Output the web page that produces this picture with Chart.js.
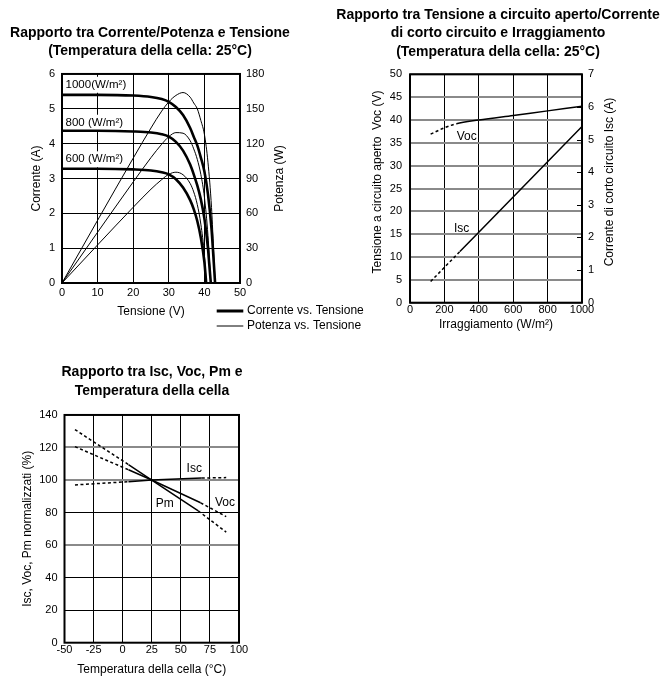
<!DOCTYPE html>
<html>
<head>
<meta charset="utf-8">
<script src="https://cdn.jsdelivr.net/npm/chart.js@4.4.1/dist/chart.umd.min.js"></script>
<style>
  body { margin: 0; background: #fff; width: 661px; height: 677px; position: relative; overflow: hidden; }
  .box { position: absolute; }
</style>
</head>
<body>
<div class="box" style="left:0;top:0;width:370px;height:340px"><canvas id="ivChart"></canvas></div>
<div class="box" style="left:330px;top:0;width:331px;height:340px"><canvas id="irrChart"></canvas></div>
<div class="box" style="left:0;top:340px;width:330px;height:337px"><canvas id="tempChart"></canvas></div>
<script>
// --- Corrente / Potenza vs Tensione (25°C) ---
const irrLabels = ["1000(W/m²)", "800 (W/m²)", "600 (W/m²)"];
const voltage1000 = [0, 10, 20, 25, 28, 30, 32, 34, 36, 37, 38, 39, 40, 41, 42, 42.5, 43];
const current1000 = [5.4, 5.4, 5.38, 5.34, 5.28, 5.2, 5.05, 4.82, 4.45, 4.2, 3.95, 3.6, 3.2, 2.55, 1.55, 0.8, 0];
const power1000 = [0, 54, 107.5, 133.5, 148, 156, 161.5, 164, 160, 155, 150, 140, 128, 104, 65, 34, 0];
const voltage800 = [0, 10, 20, 25, 28, 30, 32, 34, 36, 37, 38, 39, 40, 41, 41.4, 41.8];
const current800 = [4.37, 4.37, 4.35, 4.32, 4.27, 4.2, 4.05, 3.8, 3.4, 3.12, 2.8, 2.4, 1.85, 1.0, 0.5, 0];
const power800 = [0, 43.7, 87, 108, 119.5, 126, 129.5, 129, 122.5, 115.5, 106.5, 93.5, 74, 41, 20.7, 0];
const voltage600 = [0, 10, 20, 25, 28, 30, 32, 34, 36, 37, 38, 39, 40, 40.5];
const current600 = [3.28, 3.28, 3.26, 3.23, 3.18, 3.12, 2.98, 2.74, 2.38, 2.12, 1.78, 1.3, 0.6, 0];
const power600 = [0, 32.8, 65.2, 80.8, 89, 93.6, 95.4, 93.2, 85.7, 78.4, 67.6, 50.7, 24, 0];
const voltageTicks = [0, 10, 20, 30, 40, 50];
const currentTicks = [0, 1, 2, 3, 4, 5, 6];
const powerTicks = [0, 30, 60, 90, 120, 150, 180];

// --- Voc / Isc vs Irraggiamento ---
const irrVoc = [120, 200, 270, 400, 600, 800, 1000];
const vocValues = [36.9, 38.3, 39.2, 40, 41, 42, 43];
const irrIsc = [120, 290, 400, 600, 800, 1000];
const iscValues = [0.65, 1.57, 2.16, 3.24, 4.32, 5.4];
const vocSolid = [270, 1000];
const iscSolid = [290, 1000];
const irrTicks = [0, 200, 400, 600, 800, 1000];
const vocTicks = [0, 5, 10, 15, 20, 25, 30, 35, 40, 45, 50];
const iscTicks = [0, 1, 2, 3, 4, 5, 6, 7];

// --- Isc, Voc, Pm vs Temperatura ---
const tempIsc = [-41, 5, 25, 68, 89];
const iscPct = [97, 99, 100, 101.2, 101.5];
const tempVoc = [-41, 5, 25, 67, 89];
const vocPct = [120.5, 106.3, 100, 86, 77.5];
const tempPm = [-41, 5, 25, 65, 89];
const pmPct = [131, 109.5, 100, 81, 68];
const tempSolid = { isc: [5, 68], voc: [5, 67], pm: [5, 65] };
const tempTicks = [-50, -25, 0, 25, 50, 75, 100];
const pctTicks = [0, 20, 40, 60, 80, 100, 120, 140];

const FAMILY = "'Liberation Sans', Arial, Helvetica, sans-serif";
Chart.defaults.font.family = FAMILY;
Chart.defaults.color = "#000";
Chart.defaults.animation = false;
Chart.defaults.events = [];
Chart.defaults.plugins.legend.display = false;
Chart.defaults.plugins.tooltip.enabled = false;
Chart.defaults.elements.point.radius = 0;

const pts = (xs, ys) => xs.map((x, i) => ({ x: x, y: ys[i] }));
const useTicks = vals => scale => { scale.ticks = vals.map(v => ({ value: v })); };
const plain = v => String(v);
const dashOutside = range => ctx =>
  (ctx.p0.parsed.x < range[0] || ctx.p1.parsed.x > range[1]) ? [3, 2.5] : undefined;

const titleFont = { size: 14, weight: "bold", lineHeight: 1.32 };
const tickFont = { size: 11 };
const axisFont = { size: 12 };

// draws frame, in-plot notes, rotated side titles, inner ticks, legend
function extras(cfg) {
  return {
    id: "extras",
    beforeDatasetsDraw(chart) {
      const ctx = chart.ctx;
      (cfg.notes || []).forEach(n => {
        const x = chart.scales.x.getPixelForValue(n.x);
        const y = chart.scales[n.axis || "y"].getPixelForValue(n.y);
        ctx.save();
        ctx.font = (n.size || 12) + "px " + FAMILY;
        ctx.textAlign = n.align || "center";
        ctx.textBaseline = "middle";
        if (n.bg) {
          const w = ctx.measureText(n.text).width;
          const left = ctx.textAlign === "left" ? x : x - w / 2;
          ctx.fillStyle = "#fff";
          ctx.fillRect(left - 1, y - 8, w + 3, 16);
        }
        ctx.fillStyle = "#000";
        ctx.fillText(n.text, x, y);
        ctx.restore();
      });
    },
    afterDraw(chart) {
      const ctx = chart.ctx;
      const a = chart.chartArea;
      ctx.save();
      ctx.strokeStyle = "#000";
      ctx.lineWidth = 2;
      ctx.strokeRect(a.left, a.top, a.right - a.left, a.bottom - a.top);
      if (cfg.innerTicks) {
        ctx.lineWidth = 1;
        cfg.innerTicks.values.forEach(v => {
          const y = Math.round(chart.scales[cfg.innerTicks.axis].getPixelForValue(v)) + 0.5;
          ctx.beginPath();
          ctx.moveTo(a.right - 5, y);
          ctx.lineTo(a.right, y);
          ctx.stroke();
        });
      }
      ctx.fillStyle = "#000";
      ctx.font = "12px " + FAMILY;
      ctx.textAlign = "center";
      ctx.textBaseline = "middle";
      (cfg.sideTitles || []).forEach(t => {
        ctx.save();
        ctx.translate(t.x, t.y != null ? t.y : (a.top + a.bottom) / 2);
        ctx.rotate(-Math.PI / 2);
        ctx.fillText(t.text, 0, 0);
        ctx.restore();
      });
      if (cfg.legend) {
        const L = cfg.legend;
        ctx.textAlign = "left";
        L.items.forEach(it => {
          ctx.lineWidth = it.width;
          ctx.beginPath();
          ctx.moveTo(L.x0, it.y);
          ctx.lineTo(L.x1, it.y);
          ctx.stroke();
          ctx.fillText(it.text, L.tx, it.y);
        });
      }
      ctx.restore();
    }
  };
}

// ---------- Chart 1 ----------
const ivSets = [
  [voltage1000, current1000, power1000],
  [voltage800, current800, power800],
  [voltage600, current600, power600]
];
const ivDatasets = [];
ivSets.forEach((s, i) => {
  ivDatasets.push({
    label: "Corrente " + irrLabels[i], data: pts(s[0], s[1]), yAxisID: "y",
    borderColor: "#000", borderWidth: 2.6, cubicInterpolationMode: "monotone"
  });
  ivDatasets.push({
    label: "Potenza " + irrLabels[i], data: pts(s[0], s[2]), yAxisID: "y1",
    borderColor: "#000", borderWidth: 1, cubicInterpolationMode: "monotone"
  });
});

new Chart(document.getElementById("ivChart"), {
  type: "line",
  data: { datasets: ivDatasets },
  options: {
    responsive: true,
    maintainAspectRatio: false,
    layout: { padding: { left: 0, right: 70, top: 0, bottom: 0 } },
    plugins: {
      title: {
        display: true,
        text: ["Rapporto tra Corrente/Potenza e Tensione", "(Temperatura della cella: 25°C)"],
        font: titleFont, color: "#000", padding: { top: 23.8, bottom: 13.2 }
      }
    },
    scales: {
      x: {
        type: "linear", min: 0, max: 50,
        afterBuildTicks: useTicks(voltageTicks),
        afterFit: s => { s.height = 57; },
        ticks: { font: tickFont, padding: 3, maxRotation: 0, autoSkip: false, callback: plain },
        grid: { color: "#000", lineWidth: 1, drawTicks: false },
        border: { display: false },
        title: { display: true, text: "Tensione (V)", font: axisFont, padding: { top: 0, bottom: 21.1 } }
      },
      y: {
        min: 0, max: 6,
        afterBuildTicks: useTicks(currentTicks),
        afterFit: s => { s.width = 62; },
        ticks: { font: tickFont, padding: 7, callback: plain },
        grid: { color: "#000", lineWidth: 1, drawTicks: false },
        border: { display: false },
        title: { display: true, text: "Corrente (A)", font: axisFont, padding: { top: 29.8, bottom: 0 } }
      },
      y1: {
        position: "right", min: 0, max: 180,
        afterBuildTicks: useTicks(powerTicks),
        afterFit: s => { s.width = 60; },
        ticks: { font: tickFont, padding: 6, callback: plain },
        grid: { display: false, drawTicks: false },
        border: { display: false }
      }
    }
  },
  plugins: [extras({
    notes: [
      { text: irrLabels[0], x: 1, y: 5.69, align: "left", bg: true, size: 11.5 },
      { text: irrLabels[1], x: 1, y: 4.6, align: "left", bg: true, size: 11.5 },
      { text: irrLabels[2], x: 1, y: 3.55, align: "left", bg: true, size: 11.5 }
    ],
    sideTitles: [{ text: "Potenza (W)", x: 279.5 }],
    legend: {
      x0: 216.7, x1: 243.3, tx: 247,
      items: [
        { text: "Corrente vs. Tensione", width: 3, y: 311 },
        { text: "Potenza vs. Tensione", width: 1, y: 326 }
      ]
    }
  })]
});

// ---------- Chart 2 ----------
new Chart(document.getElementById("irrChart"), {
  type: "line",
  data: {
    datasets: [
      {
        label: "Voc", data: pts(irrVoc, vocValues), yAxisID: "y",
        borderColor: "#000", borderWidth: 1.5, cubicInterpolationMode: "monotone",
        segment: { borderDash: dashOutside(vocSolid) }
      },
      {
        label: "Isc", data: pts(irrIsc, iscValues), yAxisID: "y1",
        borderColor: "#000", borderWidth: 1.5,
        segment: { borderDash: dashOutside(iscSolid) }
      }
    ]
  },
  options: {
    responsive: true,
    maintainAspectRatio: false,
    layout: { padding: { left: 5, right: 0, top: 0, bottom: 0 } },
    plugins: {
      title: {
        display: true,
        text: ["Rapporto tra Tensione a circuito aperto/Corrente", "di corto circuito e Irraggiamento", "(Temperatura della cella: 25°C)"],
        font: titleFont, color: "#000", padding: { top: 5.8, bottom: 13.1 }
      }
    },
    scales: {
      x: {
        type: "linear", min: 0, max: 1000,
        afterBuildTicks: useTicks(irrTicks),
        afterFit: s => { s.height = 37.3; },
        ticks: { font: tickFont, padding: 1, maxRotation: 0, autoSkip: false, callback: plain },
        grid: { color: "#000", lineWidth: 1, drawTicks: false },
        border: { display: false },
        title: { display: true, text: "Irraggiamento (W/m²)", font: axisFont, padding: { top: 0, bottom: 7.8 } }
      },
      y: {
        min: 0, max: 50,
        afterBuildTicks: useTicks(vocTicks),
        afterFit: s => { s.width = 75; },
        ticks: { font: tickFont, padding: 8, callback: plain },
        grid: { color: "#8a8a8a", lineWidth: 2, drawTicks: false },
        border: { display: false }
      },
      y1: {
        position: "right", min: 0, max: 7,
        afterBuildTicks: useTicks(iscTicks),
        afterFit: s => { s.width = 79; },
        ticks: { font: tickFont, padding: 6, callback: plain },
        grid: { display: false, drawTicks: false },
        border: { display: false }
      }
    }
  },
  plugins: [extras({
    notes: [
      { text: "Voc", x: 330, y: 36.3 },
      { text: "Isc", x: 300, y: 16.1 }
    ],
    innerTicks: { axis: "y1", values: [1, 2, 3, 4, 5, 6] },
    sideTitles: [
      { text: "Tensione a circuito aperto  Voc (V)", x: 47.5, y: 182 },
      { text: "Corrente di corto circuito Isc (A)", x: 280, y: 182 }
    ]
  })]
});

// ---------- Chart 3 ----------
const grayRows = [60, 100, 120];
new Chart(document.getElementById("tempChart"), {
  type: "line",
  data: {
    datasets: [
      {
        label: "Isc", data: pts(tempIsc, iscPct), borderColor: "#000", borderWidth: 1.5,
        segment: { borderDash: dashOutside(tempSolid.isc) }
      },
      {
        label: "Voc", data: pts(tempVoc, vocPct), borderColor: "#000", borderWidth: 1.5,
        segment: { borderDash: dashOutside(tempSolid.voc) }
      },
      {
        label: "Pm", data: pts(tempPm, pmPct), borderColor: "#000", borderWidth: 1.5,
        segment: { borderDash: dashOutside(tempSolid.pm) }
      }
    ]
  },
  options: {
    responsive: true,
    maintainAspectRatio: false,
    layout: { padding: { left: 0, right: 26, top: 0, bottom: 0 } },
    plugins: {
      title: {
        display: true,
        text: ["Rapporto tra Isc, Voc, Pm e", "Temperatura della cella"],
        font: titleFont, color: "#000", padding: { top: 23, bottom: 15 }
      }
    },
    scales: {
      x: {
        type: "linear", min: -50, max: 100,
        afterBuildTicks: useTicks(tempTicks),
        afterFit: s => { s.height = 34.3; },
        ticks: { font: tickFont, padding: 1, maxRotation: 0, autoSkip: false, callback: plain },
        grid: { color: "#000", lineWidth: 1, drawTicks: false },
        border: { display: false },
        title: { display: true, text: "Temperatura della cella (°C)", font: axisFont, padding: { top: 0, bottom: 0.5 } }
      },
      y: {
        min: 0, max: 140,
        afterBuildTicks: useTicks(pctTicks),
        afterFit: s => { s.width = 64.5; },
        ticks: { font: tickFont, padding: 7, callback: plain },
        grid: {
          color: c => grayRows.includes(c.tick && c.tick.value) ? "#8a8a8a" : "#000",
          lineWidth: c => grayRows.includes(c.tick && c.tick.value) ? 2 : 1,
          drawTicks: false
        },
        border: { display: false },
        title: { display: true, text: "Isc, Voc, Pm normalizzati (%)", font: axisFont, padding: { top: 20.3, bottom: 0 } }
      },
      // empty right side, keeps the plot narrow under the centred title
      side: {
        position: "right", min: 0, max: 140,
        afterFit: s => { s.width = 65; },
        ticks: { display: false },
        grid: { display: false, drawTicks: false },
        border: { display: false }
      }
    }
  },
  plugins: [extras({
    notes: [
      { text: "Isc", x: 61.5, y: 106.8 },
      { text: "Pm", x: 36.2, y: 85.3 },
      { text: "Voc", x: 87.9, y: 86.3 }
    ]
  })]
});
</script>
</body>
</html>
